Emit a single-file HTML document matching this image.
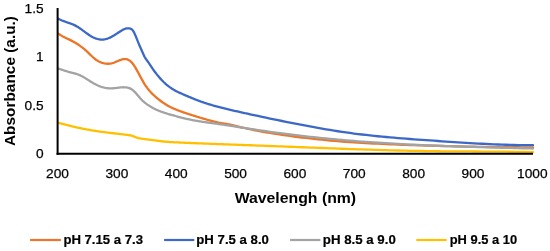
<!DOCTYPE html>
<html><head><meta charset="utf-8"><style>
html,body{margin:0;padding:0;background:#fff;overflow:hidden;}
svg{display:block;will-change:transform;}
text{font-family:"Liberation Sans",sans-serif;fill:#000;}
.tk{font-size:13.7px;stroke:#000;stroke-width:0.25px;}
.tt{font-size:15.8px;font-weight:bold;}
.lg{font-size:13.4px;font-weight:bold;stroke:#000;stroke-width:0.2px;}
.cv path{fill:none;stroke-width:2.3;stroke-linejoin:round;stroke-linecap:round;}
.lgl line{stroke-width:2.2;}
</style></head><body>
<svg width="550" height="251" viewBox="0 0 550 251">
<g class="cv">
<path d="M58.40,33.65 L59.40,34.33 L60.40,34.98 L61.40,35.58 L62.40,36.15 L63.40,36.69 L64.40,37.21 L65.40,37.71 L66.40,38.20 L67.40,38.68 L68.40,39.15 L69.40,39.63 L70.40,40.12 L71.40,40.61 L72.40,41.13 L73.40,41.66 L74.40,42.22 L75.40,42.80 L76.40,43.41 L77.40,44.04 L78.40,44.70 L79.40,45.39 L80.40,46.10 L81.40,46.84 L82.40,47.61 L83.40,48.41 L84.40,49.23 L85.40,50.09 L86.40,50.98 L87.40,51.90 L88.40,52.86 L89.40,53.83 L90.40,54.81 L91.40,55.78 L92.40,56.72 L93.40,57.63 L94.40,58.48 L95.40,59.26 L96.40,59.97 L97.40,60.62 L98.40,61.19 L99.40,61.70 L100.40,62.15 L101.40,62.55 L102.40,62.89 L103.40,63.18 L104.40,63.41 L105.40,63.59 L106.40,63.71 L107.40,63.77 L108.40,63.77 L109.40,63.71 L110.40,63.59 L111.40,63.41 L112.40,63.15 L113.40,62.84 L114.40,62.47 L115.40,62.06 L116.40,61.63 L117.40,61.20 L118.40,60.77 L119.40,60.35 L120.40,59.98 L121.40,59.65 L122.40,59.38 L123.40,59.19 L124.40,59.09 L125.40,59.10 L126.40,59.22 L127.40,59.48 L128.40,59.89 L129.40,60.45 L130.40,61.19 L131.40,62.11 L132.40,63.23 L133.40,64.54 L134.40,66.00 L135.40,67.61 L136.40,69.32 L137.40,71.12 L138.40,72.98 L139.40,74.87 L140.40,76.76 L141.40,78.62 L142.40,80.43 L143.40,82.16 L144.40,83.80 L145.40,85.35 L146.40,86.80 L147.40,88.16 L148.40,89.44 L149.40,90.64 L150.40,91.78 L151.40,92.85 L152.40,93.87 L153.40,94.84 L154.40,95.77 L155.40,96.67 L156.40,97.54 L157.40,98.39 L158.40,99.21 L159.40,100.00 L160.40,100.76 L161.40,101.50 L162.40,102.21 L163.40,102.89 L164.40,103.55 L165.40,104.19 L166.40,104.80 L167.40,105.39 L168.40,105.95 L169.40,106.49 L170.40,107.01 L171.40,107.50 L172.40,107.98 L173.40,108.44 L174.40,108.88 L175.40,109.31 L176.40,109.72 L177.40,110.12 L178.40,110.51 L179.40,110.88 L180.40,111.25 L181.40,111.61 L182.40,111.96 L183.40,112.31 L184.40,112.65 L185.40,112.99 L186.40,113.32 L187.40,113.66 L188.40,113.98 L189.40,114.31 L190.40,114.63 L191.40,114.95 L192.40,115.27 L193.40,115.59 L194.40,115.90 L195.40,116.21 L196.40,116.52 L197.40,116.82 L198.40,117.12 L199.40,117.43 L200.40,117.73 L201.40,118.02 L202.40,118.32 L203.40,118.62 L204.40,118.91 L205.40,119.20 L206.40,119.49 L207.40,119.78 L208.40,120.07 L209.40,120.36 L210.40,120.64 L211.40,120.92 L212.40,121.20 L213.40,121.46 L214.40,121.72 L215.40,121.96 L216.40,122.20 L217.40,122.42 L218.40,122.62 L219.40,122.80 L220.40,122.97 L221.40,123.13 L222.40,123.28 L223.40,123.43 L224.40,123.58 L225.40,123.74 L226.40,123.90 L227.40,124.08 L228.40,124.28 L229.40,124.48 L230.40,124.70 L231.40,124.93 L232.40,125.17 L233.40,125.41 L234.40,125.65 L235.40,125.90 L236.40,126.14 L237.40,126.38 L238.40,126.62 L239.40,126.86 L240.40,127.09 L241.40,127.32 L242.40,127.55 L243.40,127.77 L244.40,128.00 L245.40,128.22 L246.40,128.43 L247.40,128.65 L248.40,128.86 L249.40,129.07 L250.00,129.20 L254.00,130.01 L258.00,130.79 L262.00,131.54 L266.00,132.25 L270.00,132.94 L274.00,133.59 L278.00,134.22 L282.00,134.82 L286.00,135.40 L290.00,135.95 L294.00,136.49 L298.00,137.00 L302.00,137.50 L306.00,137.98 L310.00,138.44 L314.00,138.89 L318.00,139.31 L322.00,139.72 L326.00,140.11 L330.00,140.49 L334.00,140.84 L338.00,141.18 L342.00,141.49 L346.00,141.79 L350.00,142.07 L354.00,142.34 L358.00,142.59 L362.00,142.83 L366.00,143.06 L370.00,143.28 L374.00,143.48 L378.00,143.68 L382.00,143.88 L386.00,144.06 L390.00,144.24 L394.00,144.41 L398.00,144.57 L402.00,144.73 L406.00,144.88 L410.00,145.02 L414.00,145.16 L418.00,145.29 L422.00,145.42 L426.00,145.54 L430.00,145.66 L434.00,145.77 L438.00,145.88 L442.00,145.99 L446.00,146.09 L450.00,146.19 L454.00,146.29 L458.00,146.38 L462.00,146.47 L466.00,146.56 L470.00,146.65 L474.00,146.72 L478.00,146.80 L482.00,146.87 L486.00,146.94 L490.00,147.00 L494.00,147.06 L498.00,147.11 L502.00,147.15 L506.00,147.19 L510.00,147.22 L514.00,147.25 L518.00,147.27 L522.00,147.28 L526.00,147.29 L530.00,147.28 L533.00,147.28" stroke="#EB7628"/>
<path d="M58.40,18.67 L59.40,19.23 L60.40,19.74 L61.40,20.21 L62.40,20.65 L63.40,21.05 L64.40,21.43 L65.40,21.79 L66.40,22.14 L67.40,22.48 L68.40,22.81 L69.40,23.15 L70.40,23.51 L71.40,23.87 L72.40,24.26 L73.40,24.68 L74.40,25.12 L75.40,25.61 L76.40,26.14 L77.40,26.72 L78.40,27.34 L79.40,28.00 L80.40,28.69 L81.40,29.40 L82.40,30.13 L83.40,30.87 L84.40,31.61 L85.40,32.35 L86.40,33.08 L87.40,33.80 L88.40,34.50 L89.40,35.17 L90.40,35.80 L91.40,36.39 L92.40,36.94 L93.40,37.44 L94.40,37.90 L95.40,38.30 L96.40,38.65 L97.40,38.94 L98.40,39.18 L99.40,39.37 L100.40,39.50 L101.40,39.56 L102.40,39.57 L103.40,39.52 L104.40,39.40 L105.40,39.21 L106.40,38.96 L107.40,38.65 L108.40,38.28 L109.40,37.86 L110.40,37.39 L111.40,36.88 L112.40,36.34 L113.40,35.76 L114.40,35.16 L115.40,34.53 L116.40,33.89 L117.40,33.24 L118.40,32.58 L119.40,31.92 L120.40,31.27 L121.40,30.65 L122.40,30.07 L123.40,29.54 L124.40,29.09 L125.40,28.72 L126.40,28.46 L127.40,28.31 L128.40,28.29 L129.40,28.41 L130.40,28.68 L131.40,29.14 L132.40,29.93 L133.40,31.25 L134.40,33.15 L135.40,35.43 L136.40,37.90 L137.40,40.38 L138.40,42.82 L139.40,45.22 L140.40,47.54 L141.40,49.82 L142.40,52.07 L143.40,54.33 L144.40,56.51 L145.40,58.28 L146.40,59.66 L147.40,61.02 L148.40,62.45 L149.40,63.93 L150.40,65.43 L151.40,66.93 L152.40,68.39 L153.40,69.82 L154.40,71.21 L155.40,72.55 L156.40,73.85 L157.40,75.11 L158.40,76.33 L159.40,77.50 L160.40,78.63 L161.40,79.72 L162.40,80.77 L163.40,81.78 L164.40,82.74 L165.40,83.66 L166.40,84.54 L167.40,85.37 L168.40,86.17 L169.40,86.92 L170.40,87.63 L171.40,88.31 L172.40,88.94 L173.40,89.55 L174.40,90.13 L175.40,90.68 L176.40,91.20 L177.40,91.71 L178.40,92.19 L179.40,92.67 L180.40,93.12 L181.40,93.57 L182.40,94.01 L183.40,94.45 L184.40,94.89 L185.40,95.32 L186.40,95.75 L187.40,96.17 L188.40,96.60 L189.40,97.02 L190.40,97.43 L191.40,97.84 L192.40,98.25 L193.40,98.66 L194.40,99.06 L195.40,99.45 L196.40,99.84 L197.40,100.22 L198.40,100.60 L199.40,100.98 L200.40,101.34 L201.40,101.71 L202.40,102.06 L203.40,102.41 L204.40,102.75 L205.40,103.09 L206.40,103.42 L207.40,103.74 L208.40,104.06 L209.40,104.37 L210.40,104.67 L211.40,104.97 L212.40,105.26 L213.40,105.55 L214.40,105.84 L215.40,106.12 L216.40,106.39 L217.40,106.66 L218.40,106.93 L219.40,107.19 L220.40,107.45 L221.40,107.70 L222.40,107.96 L223.40,108.20 L224.40,108.45 L225.40,108.69 L226.40,108.93 L227.40,109.17 L228.40,109.41 L229.40,109.64 L230.40,109.87 L231.40,110.10 L232.40,110.33 L233.40,110.56 L234.40,110.79 L235.40,111.01 L236.40,111.24 L237.40,111.46 L238.40,111.69 L239.40,111.91 L240.40,112.14 L241.40,112.36 L242.40,112.58 L243.40,112.80 L244.40,113.03 L245.40,113.25 L246.40,113.47 L247.40,113.69 L248.40,113.91 L249.40,114.13 L250.00,114.26 L254.00,115.13 L258.00,115.99 L262.00,116.85 L266.00,117.69 L270.00,118.53 L274.00,119.36 L278.00,120.19 L282.00,121.00 L286.00,121.80 L290.00,122.60 L294.00,123.39 L298.00,124.17 L302.00,124.94 L306.00,125.70 L310.00,126.44 L314.00,127.18 L318.00,127.90 L322.00,128.60 L326.00,129.29 L330.00,129.96 L334.00,130.61 L338.00,131.24 L342.00,131.84 L346.00,132.43 L350.00,132.98 L354.00,133.52 L358.00,134.03 L362.00,134.51 L366.00,134.98 L370.00,135.42 L374.00,135.84 L378.00,136.25 L382.00,136.64 L386.00,137.01 L390.00,137.37 L394.00,137.71 L398.00,138.05 L402.00,138.37 L406.00,138.68 L410.00,138.99 L414.00,139.29 L418.00,139.58 L422.00,139.87 L426.00,140.15 L430.00,140.44 L434.00,140.72 L438.00,141.00 L442.00,141.28 L446.00,141.56 L450.00,141.83 L454.00,142.10 L458.00,142.36 L462.00,142.62 L466.00,142.87 L470.00,143.11 L474.00,143.34 L478.00,143.56 L482.00,143.77 L486.00,143.97 L490.00,144.16 L494.00,144.34 L498.00,144.50 L502.00,144.64 L506.00,144.77 L510.00,144.89 L514.00,144.99 L518.00,145.06 L522.00,145.12 L526.00,145.16 L530.00,145.18 L533.00,145.18" stroke="#3D69C6"/>
<path d="M58.40,68.60 L59.40,68.94 L60.40,69.28 L61.40,69.61 L62.40,69.94 L63.40,70.26 L64.40,70.58 L65.40,70.89 L66.40,71.19 L67.40,71.49 L68.40,71.78 L69.40,72.07 L70.40,72.34 L71.40,72.62 L72.40,72.88 L73.40,73.14 L74.40,73.40 L75.40,73.66 L76.40,73.95 L77.40,74.26 L78.40,74.60 L79.40,74.99 L80.40,75.42 L81.40,75.91 L82.40,76.45 L83.40,77.02 L84.40,77.62 L85.40,78.24 L86.40,78.88 L87.40,79.52 L88.40,80.15 L89.40,80.78 L90.40,81.40 L91.40,82.00 L92.40,82.59 L93.40,83.17 L94.40,83.72 L95.40,84.26 L96.40,84.76 L97.40,85.25 L98.40,85.70 L99.40,86.12 L100.40,86.51 L101.40,86.86 L102.40,87.18 L103.40,87.45 L104.40,87.69 L105.40,87.89 L106.40,88.05 L107.40,88.17 L108.40,88.26 L109.40,88.32 L110.40,88.35 L111.40,88.34 L112.40,88.30 L113.40,88.23 L114.40,88.14 L115.40,88.03 L116.40,87.91 L117.40,87.78 L118.40,87.66 L119.40,87.54 L120.40,87.43 L121.40,87.35 L122.40,87.29 L123.40,87.26 L124.40,87.28 L125.40,87.33 L126.40,87.44 L127.40,87.61 L128.40,87.85 L129.40,88.18 L130.40,88.61 L131.40,89.15 L132.40,89.81 L133.40,90.62 L134.40,91.56 L135.40,92.61 L136.40,93.73 L137.40,94.90 L138.40,96.08 L139.40,97.27 L140.40,98.42 L141.40,99.52 L142.40,100.54 L143.40,101.48 L144.40,102.34 L145.40,103.13 L146.40,103.88 L147.40,104.59 L148.40,105.26 L149.40,105.91 L150.40,106.53 L151.40,107.11 L152.40,107.67 L153.40,108.21 L154.40,108.72 L155.40,109.21 L156.40,109.68 L157.40,110.13 L158.40,110.55 L159.40,110.96 L160.40,111.36 L161.40,111.73 L162.40,112.10 L163.40,112.45 L164.40,112.78 L165.40,113.11 L166.40,113.42 L167.40,113.73 L168.40,114.03 L169.40,114.32 L170.40,114.61 L171.40,114.89 L172.40,115.17 L173.40,115.45 L174.40,115.72 L175.40,115.99 L176.40,116.26 L177.40,116.52 L178.40,116.79 L179.40,117.05 L180.40,117.30 L181.40,117.56 L182.40,117.81 L183.40,118.06 L184.40,118.30 L185.40,118.54 L186.40,118.78 L187.40,119.01 L188.40,119.23 L189.40,119.45 L190.40,119.66 L191.40,119.87 L192.40,120.07 L193.40,120.26 L194.40,120.45 L195.40,120.63 L196.40,120.81 L197.40,120.98 L198.40,121.15 L199.40,121.31 L200.40,121.47 L201.40,121.62 L202.40,121.78 L203.40,121.92 L204.40,122.07 L205.40,122.22 L206.40,122.36 L207.40,122.50 L208.40,122.64 L209.40,122.77 L210.40,122.91 L211.40,123.04 L212.40,123.18 L213.40,123.31 L214.40,123.45 L215.40,123.58 L216.40,123.72 L217.40,123.86 L218.40,123.99 L219.40,124.13 L220.40,124.27 L221.40,124.42 L222.40,124.56 L223.40,124.71 L224.40,124.85 L225.40,125.00 L226.40,125.15 L227.40,125.30 L228.40,125.46 L229.40,125.61 L230.40,125.76 L231.40,125.92 L232.40,126.07 L233.40,126.23 L234.40,126.38 L235.40,126.54 L236.40,126.70 L237.40,126.86 L238.40,127.02 L239.40,127.17 L240.40,127.33 L241.40,127.49 L242.40,127.65 L243.40,127.81 L244.40,127.96 L245.40,128.12 L246.40,128.28 L247.40,128.44 L248.40,128.59 L249.40,128.75 L250.00,128.84 L254.00,129.46 L258.00,130.06 L262.00,130.65 L266.00,131.22 L270.00,131.79 L274.00,132.34 L278.00,132.88 L282.00,133.41 L286.00,133.92 L290.00,134.43 L294.00,134.92 L298.00,135.40 L302.00,135.87 L306.00,136.33 L310.00,136.77 L314.00,137.21 L318.00,137.63 L322.00,138.05 L326.00,138.45 L330.00,138.84 L334.00,139.22 L338.00,139.59 L342.00,139.95 L346.00,140.30 L350.00,140.63 L354.00,140.96 L358.00,141.28 L362.00,141.59 L366.00,141.88 L370.00,142.17 L374.00,142.45 L378.00,142.71 L382.00,142.97 L386.00,143.22 L390.00,143.46 L394.00,143.70 L398.00,143.92 L402.00,144.14 L406.00,144.34 L410.00,144.54 L414.00,144.74 L418.00,144.93 L422.00,145.11 L426.00,145.28 L430.00,145.45 L434.00,145.61 L438.00,145.77 L442.00,145.92 L446.00,146.06 L450.00,146.21 L454.00,146.34 L458.00,146.48 L462.00,146.60 L466.00,146.73 L470.00,146.85 L474.00,146.97 L478.00,147.09 L482.00,147.20 L486.00,147.31 L490.00,147.42 L494.00,147.53 L498.00,147.63 L502.00,147.74 L506.00,147.84 L510.00,147.95 L514.00,148.05 L518.00,148.15 L522.00,148.25 L526.00,148.36 L530.00,148.46 L533.00,148.54" stroke="#A3A3A3"/>
<path d="M58.40,122.89 L59.40,123.16 L60.40,123.43 L61.40,123.69 L62.40,123.96 L63.40,124.22 L64.40,124.47 L65.40,124.73 L66.40,124.98 L67.40,125.23 L68.40,125.47 L69.40,125.71 L70.40,125.95 L71.40,126.19 L72.40,126.42 L73.40,126.65 L74.40,126.88 L75.40,127.11 L76.40,127.33 L77.40,127.55 L78.40,127.76 L79.40,127.97 L80.40,128.18 L81.40,128.39 L82.40,128.59 L83.40,128.79 L84.40,128.98 L85.40,129.18 L86.40,129.37 L87.40,129.55 L88.40,129.74 L89.40,129.92 L90.40,130.09 L91.40,130.27 L92.40,130.44 L93.40,130.60 L94.40,130.76 L95.40,130.92 L96.40,131.08 L97.40,131.23 L98.40,131.38 L99.40,131.53 L100.40,131.67 L101.40,131.81 L102.40,131.94 L103.40,132.07 L104.40,132.20 L105.40,132.33 L106.40,132.45 L107.40,132.57 L108.40,132.69 L109.40,132.81 L110.40,132.92 L111.40,133.04 L112.40,133.15 L113.40,133.26 L114.40,133.38 L115.40,133.49 L116.40,133.60 L117.40,133.72 L118.40,133.83 L119.40,133.95 L120.40,134.06 L121.40,134.18 L122.40,134.30 L123.40,134.43 L124.40,134.56 L125.40,134.68 L126.40,134.82 L127.40,134.95 L128.40,135.10 L129.40,135.25 L130.40,135.44 L131.40,135.66 L132.40,135.94 L133.40,136.29 L134.40,136.68 L135.40,137.09 L136.40,137.46 L137.40,137.78 L138.40,138.05 L139.40,138.28 L140.40,138.47 L141.40,138.64 L142.40,138.79 L143.40,138.92 L144.40,139.03 L145.40,139.15 L146.40,139.27 L147.40,139.39 L148.40,139.52 L149.40,139.65 L150.40,139.78 L151.40,139.92 L152.40,140.06 L153.40,140.20 L154.40,140.34 L155.40,140.48 L156.40,140.61 L157.40,140.75 L158.40,140.88 L159.40,141.02 L160.40,141.14 L161.40,141.26 L162.40,141.38 L163.40,141.49 L164.40,141.59 L165.40,141.68 L166.40,141.77 L167.40,141.85 L168.40,141.93 L169.40,142.00 L170.40,142.07 L171.40,142.13 L172.40,142.18 L173.40,142.24 L174.40,142.29 L175.40,142.34 L176.40,142.38 L177.40,142.43 L178.40,142.47 L179.40,142.52 L180.40,142.56 L181.40,142.60 L182.40,142.65 L183.40,142.69 L184.40,142.73 L185.40,142.78 L186.40,142.82 L187.40,142.86 L188.40,142.90 L189.40,142.94 L190.40,142.99 L191.40,143.03 L192.40,143.07 L193.40,143.11 L194.40,143.15 L195.40,143.19 L196.40,143.23 L197.40,143.27 L198.40,143.31 L199.40,143.35 L200.40,143.39 L201.40,143.43 L202.40,143.47 L203.40,143.51 L204.40,143.55 L205.40,143.59 L206.40,143.63 L207.40,143.67 L208.40,143.71 L209.40,143.74 L210.40,143.78 L211.40,143.82 L212.40,143.86 L213.40,143.90 L214.40,143.94 L215.40,143.97 L216.40,144.01 L217.40,144.05 L218.40,144.09 L219.40,144.13 L220.40,144.16 L221.40,144.20 L222.40,144.24 L223.40,144.27 L224.40,144.31 L225.40,144.35 L226.40,144.39 L227.40,144.42 L228.40,144.46 L229.40,144.50 L230.40,144.53 L231.40,144.57 L232.40,144.61 L233.40,144.65 L234.40,144.68 L235.40,144.72 L236.40,144.76 L237.40,144.79 L238.40,144.83 L239.40,144.87 L240.40,144.90 L241.40,144.94 L242.40,144.98 L243.40,145.01 L244.40,145.05 L245.40,145.09 L246.40,145.12 L247.40,145.16 L248.40,145.20 L249.40,145.23 L250.00,145.25 L254.00,145.40 L258.00,145.55 L262.00,145.70 L266.00,145.85 L270.00,146.00 L274.00,146.15 L278.00,146.30 L282.00,146.46 L286.00,146.61 L290.00,146.77 L294.00,146.92 L298.00,147.08 L302.00,147.24 L306.00,147.39 L310.00,147.55 L314.00,147.70 L318.00,147.86 L322.00,148.01 L326.00,148.17 L330.00,148.32 L334.00,148.47 L338.00,148.62 L342.00,148.76 L346.00,148.91 L350.00,149.05 L354.00,149.19 L358.00,149.33 L362.00,149.46 L366.00,149.59 L370.00,149.72 L374.00,149.85 L378.00,149.97 L382.00,150.09 L386.00,150.20 L390.00,150.31 L394.00,150.42 L398.00,150.52 L402.00,150.61 L406.00,150.70 L410.00,150.79 L414.00,150.87 L418.00,150.95 L422.00,151.02 L426.00,151.08 L430.00,151.14 L434.00,151.19 L438.00,151.23 L442.00,151.28 L446.00,151.31 L450.00,151.34 L454.00,151.37 L458.00,151.40 L462.00,151.42 L466.00,151.45 L470.00,151.47 L474.00,151.49 L478.00,151.51 L482.00,151.53 L486.00,151.55 L490.00,151.58 L494.00,151.61 L498.00,151.64 L502.00,151.67 L506.00,151.71 L510.00,151.76 L514.00,151.81 L518.00,151.86 L522.00,151.93 L526.00,152.00 L530.00,152.07 L533.00,152.14" stroke="#FFC000"/>
</g>
<line x1="57.6" y1="8" x2="57.6" y2="154.8" stroke="#000" stroke-width="2"/>
<line x1="56.6" y1="153.8" x2="533" y2="153.8" stroke="#000" stroke-width="2"/>
<g class="tk">
<text x="57.50" y="177.6" text-anchor="middle">200</text>
<text x="116.85" y="177.6" text-anchor="middle">300</text>
<text x="176.20" y="177.6" text-anchor="middle">400</text>
<text x="235.55" y="177.6" text-anchor="middle">500</text>
<text x="294.90" y="177.6" text-anchor="middle">600</text>
<text x="354.25" y="177.6" text-anchor="middle">700</text>
<text x="413.60" y="177.6" text-anchor="middle">800</text>
<text x="472.95" y="177.6" text-anchor="middle">900</text>
<text x="532.30" y="177.6" text-anchor="middle">1000</text>
<text x="43.6" y="158.10" text-anchor="end">0</text>
<text x="43.6" y="109.60" text-anchor="end">0.5</text>
<text x="43.6" y="61.10" text-anchor="end">1</text>
<text x="43.6" y="12.60" text-anchor="end">1.5</text>
</g>
<text class="tt" style="font-size:15.1px" x="295.4" y="202.7" text-anchor="middle" textLength="121.5" lengthAdjust="spacingAndGlyphs">Wavelengh (nm)</text>
<text class="tt" style="font-size:15.4px" transform="translate(15.3,81) rotate(-90)" text-anchor="middle">Absorbance (a.u.)</text>
<g class="lg lgl">
<line x1="30.1" y1="240" x2="60.9" y2="240" stroke="#EB7628"/>
<text x="63.4" y="244" textLength="79.6" lengthAdjust="spacingAndGlyphs">pH 7.15 a 7.3</text>
<line x1="164.1" y1="240" x2="194.3" y2="240" stroke="#3D69C6"/>
<text x="196.3" y="244" textLength="72.6" lengthAdjust="spacingAndGlyphs">pH 7.5 a 8.0</text>
<line x1="290.1" y1="240" x2="320.4" y2="240" stroke="#A3A3A3"/>
<text x="322.8" y="244" textLength="73.0" lengthAdjust="spacingAndGlyphs">pH 8.5 a 9.0</text>
<line x1="416.3" y1="240" x2="446.6" y2="240" stroke="#FFC000"/>
<text x="449.7" y="244" textLength="67.4" lengthAdjust="spacingAndGlyphs">pH 9.5 a 10</text>
</g>
</svg>
</body></html>
